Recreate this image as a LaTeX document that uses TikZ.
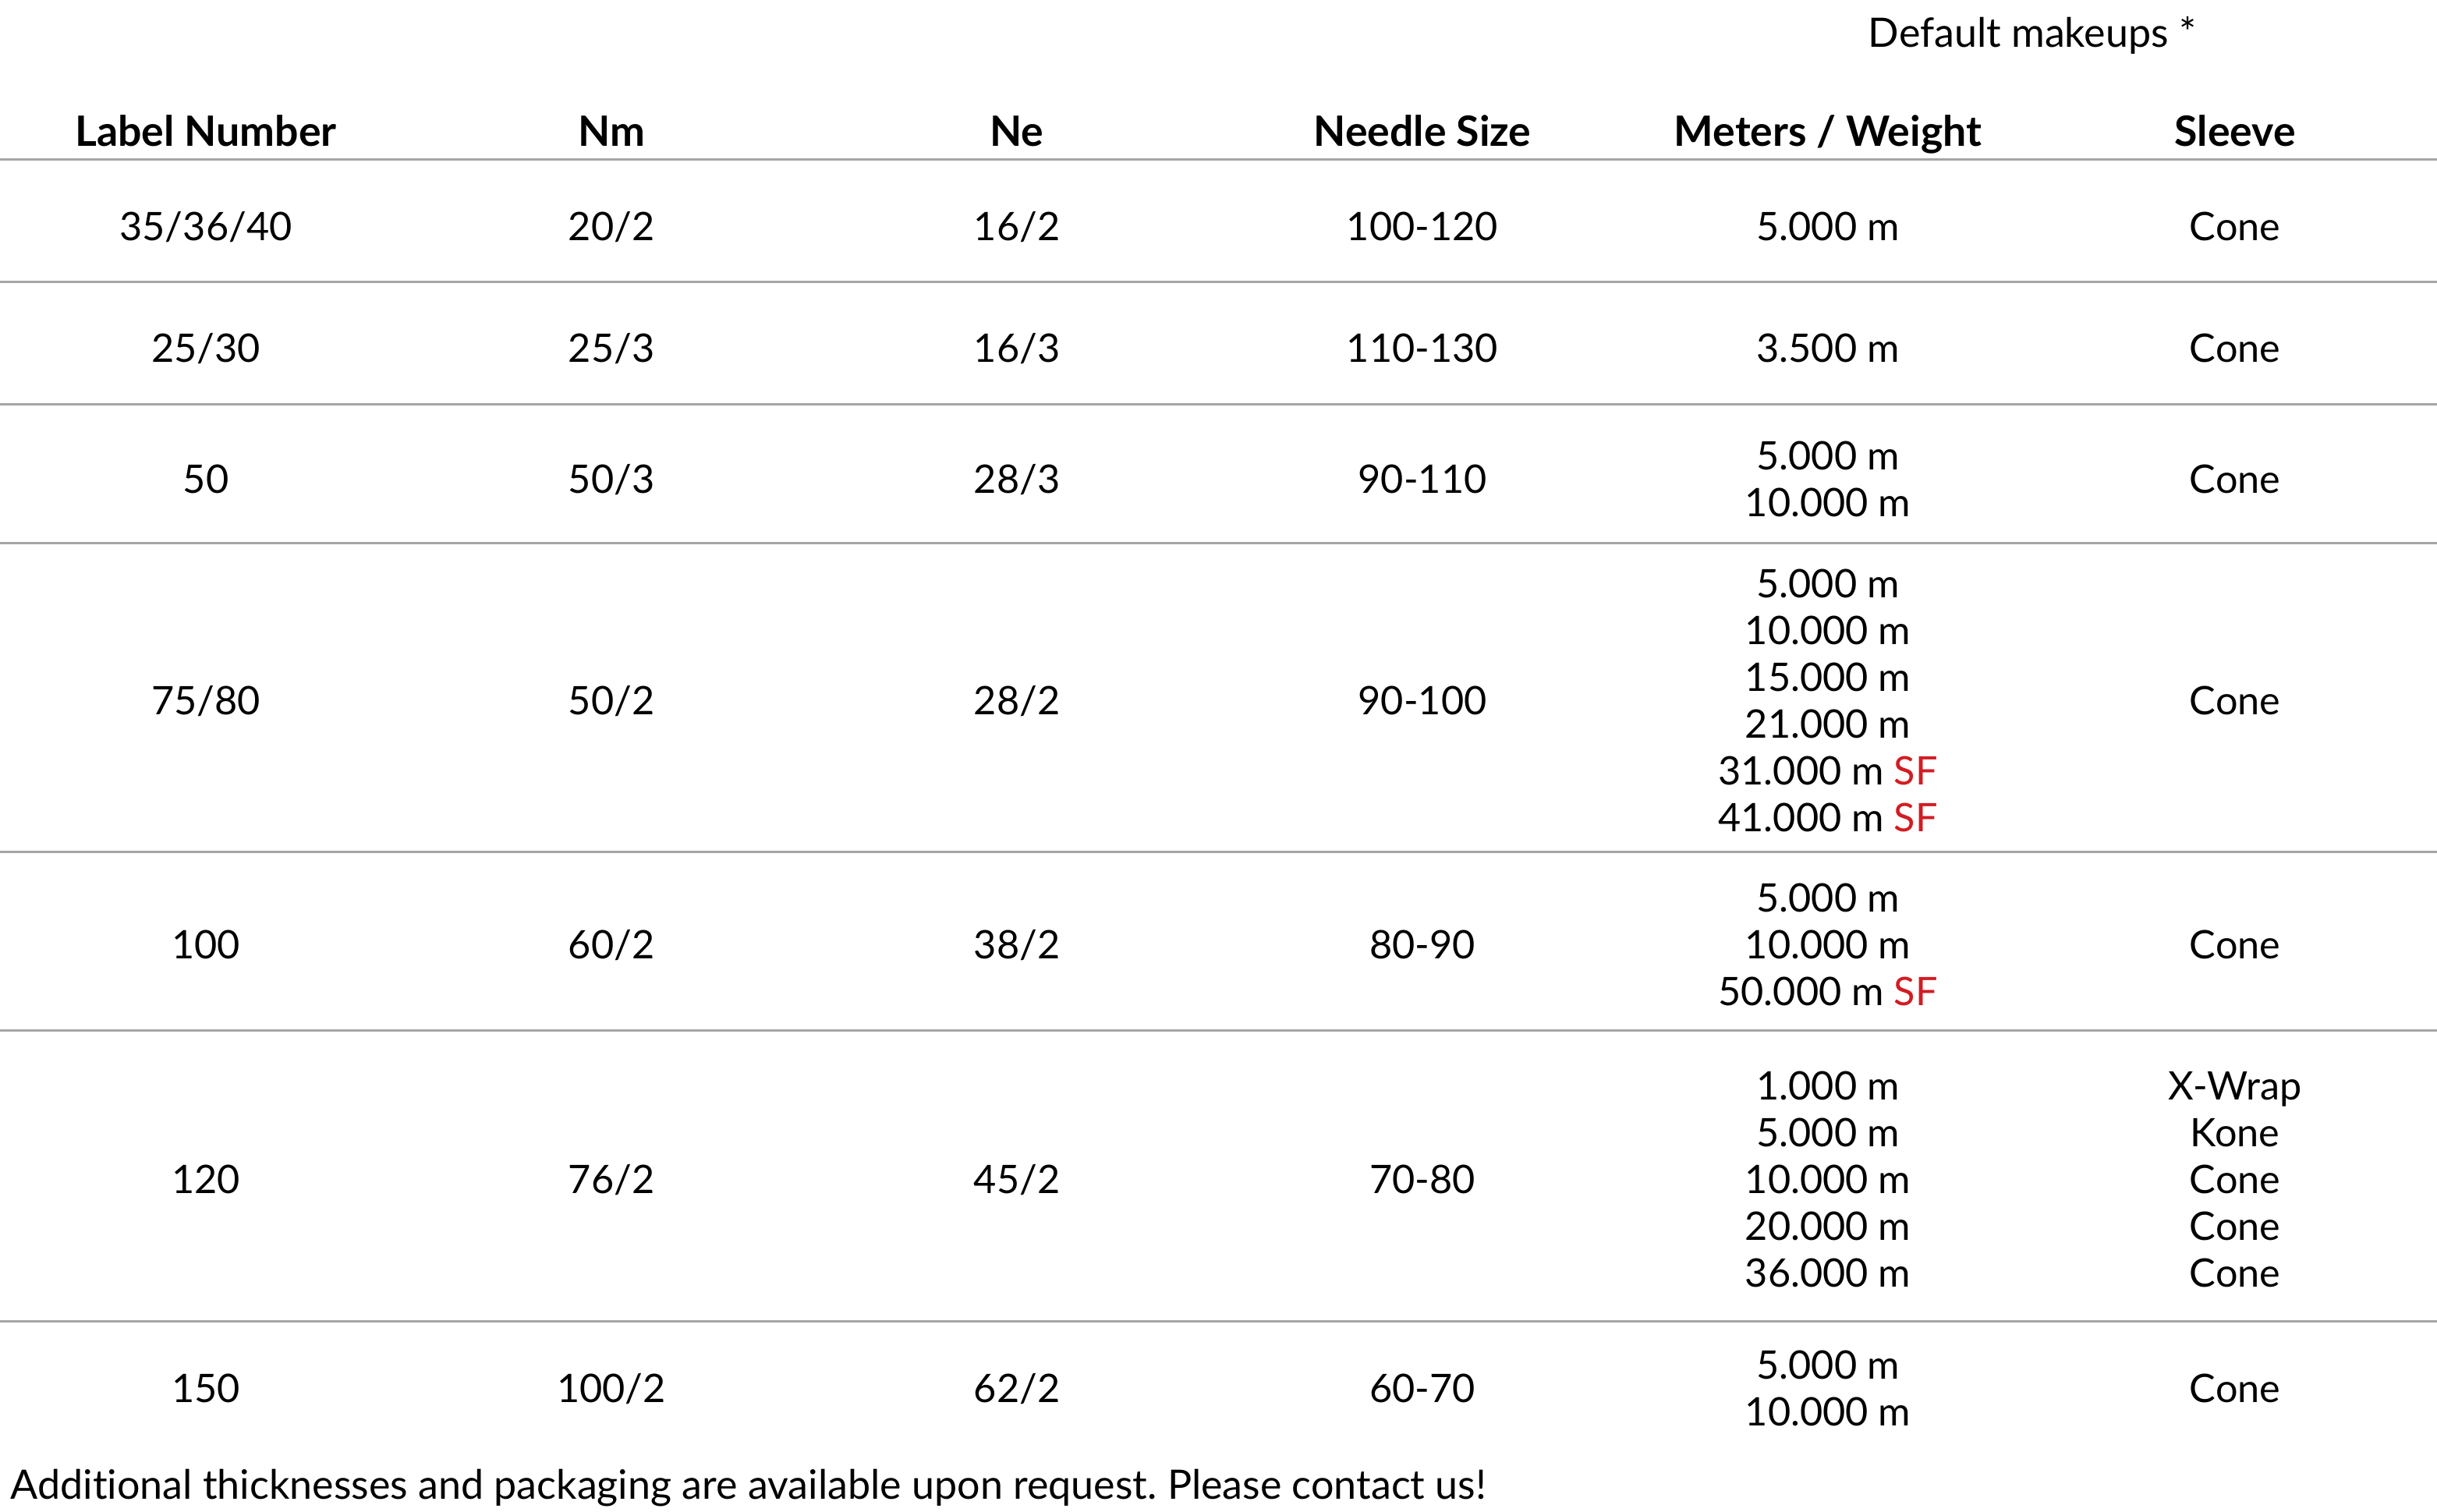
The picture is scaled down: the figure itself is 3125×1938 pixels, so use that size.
\documentclass[tikz,border=0pt]{standalone}
\usepackage{fontspec}
\setmainfont{Lato}[Ligatures=NoCommon]
\definecolor{rulegray}{RGB}{165,165,165}
\definecolor{sfred}{RGB}{210,28,34}
\begin{document}
\frenchspacing
\begin{tikzpicture}[x=0.25pt,y=-0.25pt,
  cell/.style={anchor=base,inner sep=0pt,font=\fontsize{12.6}{15}\selectfont},
  head/.style={anchor=base,inner sep=0pt,font=\fontsize{13.4}{15}\selectfont\bfseries},
  note/.style={anchor=base,inner sep=0pt,font=\fontsize{13}{15}\selectfont},
  rule/.style={draw=rulegray,line width=0.75pt}]
\useasboundingbox (0,0) rectangle (3125,1938);
% title
\node[note] (dm) at (2606,60) {Default makeups *};
% headers
\node[head] (h1) at (264,187) {Label Number};
\node[head] (h2) at (784,187) {Nm};
\node[head] (h3) at (1304,187) {Ne};
\node[head] (h4) at (1824,187) {Needle Size};
\node[head] (h5) at (2344,187) {Meters / Weight};
\node[head] (h6) at (2866,187) {Sleeve};
% rules
\foreach \y/\n in {204/r0,361/r1,518/r2,696/r3,1092/r4,1321/r5,1694/r6}{
  \coordinate (\n a) at (0,\y);
  \coordinate (\n b) at (3125,\y);
  \draw[rule] (\n a) -- (\n b);
}
% row 1
\node[cell] (a1) at (264,308) {35/36/40};
\node[cell] (b1) at (784,308) {20/2};
\node[cell] (c1) at (1304,308) {16/2};
\node[cell] (d1) at (1824,308) {100-120};
\node[cell] (e1) at (2344,308) {5.000 m};
\node[cell] (f1) at (2866,308) {Cone};
% row 2
\node[cell] (a2) at (264,464) {25/30};
\node[cell] (b2) at (784,464) {25/3};
\node[cell] (c2) at (1304,464) {16/3};
\node[cell] (d2) at (1824,464) {110-130};
\node[cell] (e2) at (2344,464) {3.500 m};
\node[cell] (f2) at (2866,464) {Cone};
% row 3
\node[cell] (a3) at (264,632) {50};
\node[cell] (b3) at (784,632) {50/3};
\node[cell] (c3) at (1304,632) {28/3};
\node[cell] (d3) at (1824,632) {90-110};
\node[cell] (e3a) at (2344,602) {5.000 m};
\node[cell] (e3b) at (2344,662) {10.000 m};
\node[cell] (f3) at (2866,632) {Cone};
% row 4
\node[cell] (a4) at (264,916) {75/80};
\node[cell] (b4) at (784,916) {50/2};
\node[cell] (c4) at (1304,916) {28/2};
\node[cell] (d4) at (1824,916) {90-100};
\node[cell] (e4a) at (2344,766) {5.000 m};
\node[cell] (e4b) at (2344,826) {10.000 m};
\node[cell] (e4c) at (2344,886) {15.000 m};
\node[cell] (e4d) at (2344,946) {21.000 m};
\node[cell] (e4e) at (2344,1006) {31.000 m \textcolor{sfred}{SF}};
\node[cell] (e4f) at (2344,1066) {41.000 m \textcolor{sfred}{SF}};
\node[cell] (f4) at (2866,916) {Cone};
% row 5
\node[cell] (a5) at (264,1229) {100};
\node[cell] (b5) at (784,1229) {60/2};
\node[cell] (c5) at (1304,1229) {38/2};
\node[cell] (d5) at (1824,1229) {80-90};
\node[cell] (e5a) at (2344,1169) {5.000 m};
\node[cell] (e5b) at (2344,1229) {10.000 m};
\node[cell] (e5c) at (2344,1289) {50.000 m \textcolor{sfred}{SF}};
\node[cell] (f5) at (2866,1229) {Cone};
% row 6
\node[cell] (a6) at (264,1530) {120};
\node[cell] (b6) at (784,1530) {76/2};
\node[cell] (c6) at (1304,1530) {45/2};
\node[cell] (d6) at (1824,1530) {70-80};
\node[cell] (e6a) at (2344,1410) {1.000 m};
\node[cell] (e6b) at (2344,1470) {5.000 m};
\node[cell] (e6c) at (2344,1530) {10.000 m};
\node[cell] (e6d) at (2344,1590) {20.000 m};
\node[cell] (e6e) at (2344,1650) {36.000 m};
\node[cell] (f6a) at (2866,1410) {X-Wrap};
\node[cell] (f6b) at (2866,1470) {Kone};
\node[cell] (f6c) at (2866,1530) {Cone};
\node[cell] (f6d) at (2866,1590) {Cone};
\node[cell] (f6e) at (2866,1650) {Cone};
% row 7
\node[cell] (a7) at (264,1798) {150};
\node[cell] (b7) at (784,1798) {100/2};
\node[cell] (c7) at (1304,1798) {62/2};
\node[cell] (d7) at (1824,1798) {60-70};
\node[cell] (e7a) at (2344,1768) {5.000 m};
\node[cell] (e7b) at (2344,1828) {10.000 m};
\node[cell] (f7) at (2866,1798) {Cone};
% footer
\node[note,anchor=base west] (ft) at (13,1922) {Additional thicknesses and packaging are available upon request. Please contact us!};
\end{tikzpicture}
\end{document}
